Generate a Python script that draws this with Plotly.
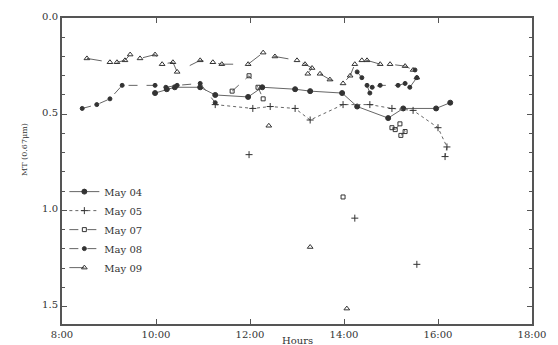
import plotly.graph_objects as go

# Hours (decimal) and MT values
may04_x = [9.98, 10.23, 10.40, 10.94, 11.26, 11.96, 12.26, 12.96, 13.28, 13.96, 14.28, 14.94, 15.26, 15.96, 16.26]
may04_y = [0.39, 0.37, 0.36, 0.36, 0.40, 0.41, 0.36, 0.37, 0.38, 0.39, 0.46, 0.52, 0.47, 0.47, 0.44]

may05_x = [11.26, 12.06, 12.43, 12.96, 13.28, 13.98, 14.55, 15.02, 15.47, 16.00, 16.19, 16.15,
           None, 11.98, None, 14.23, None, 15.55]
may05_y = [0.45, 0.47, 0.46, 0.47, 0.53, 0.45, 0.45, 0.47, 0.48, 0.57, 0.67, 0.72,
           None, 0.71, None, 1.04, None, 1.28]

may07_x = [11.62, 11.98, 12.17, 12.28, None, 13.98, None, 15.02, 15.09, 15.19, 15.30, 15.21]
may07_y = [0.38, 0.30, 0.36, 0.42, None, 0.93, None, 0.57, 0.58, 0.55, 0.59, 0.61]

may08_x = [8.43, 8.74, 9.02, 9.28, 9.98, 10.21, 10.45, 10.94, 11.26,
           None, 14.28, 14.38, 14.49, 14.55, 14.60, 14.77, 15.15, 15.30, 15.40, 15.55, 15.51]
may08_y = [0.47, 0.45, 0.42, 0.35, 0.35, 0.36, 0.35, 0.34, 0.44,
           None, 0.28, 0.31, 0.35, 0.39, 0.36, 0.35, 0.35, 0.34, 0.36, 0.31, 0.27]

may09_x = [8.53, 9.02, 9.17, 9.34, 9.45, 9.66, 9.98, 10.13, 10.36, 10.45, 10.94, 11.21, 11.40,
           11.96, 12.28, 12.53, 13.00, 13.17, 13.32, 13.23, 13.49, 13.70, 13.98, 14.13, 14.23,
           14.38, 14.49, 14.77, 14.98, 15.30, 15.47, 15.55,
           None, 12.40, None, 13.28, None, 14.06]
may09_y = [0.21, 0.23, 0.23, 0.22, 0.19, 0.21, 0.19, 0.24, 0.23, 0.28, 0.22, 0.23, 0.24,
           0.24, 0.18, 0.20, 0.22, 0.24, 0.26, 0.29, 0.29, 0.32, 0.34, 0.30, 0.24,
           0.22, 0.22, 0.24, 0.24, 0.25, 0.27, 0.31,
           None, 0.56, None, 1.19, None, 1.51]

x_tick_vals = [8, 10, 12, 14, 16, 18]
x_tick_text = ["8:00", "10:00", "12:00", "14:00", "16:00", "18:00"]
y_tick_vals = [0.0, 0.5, 1.0, 1.5]
y_tick_text = ["0.0", "0.5", "1.0", "1.5"]

FONT = "DejaVu Serif"
INK = "#333333"
AX = "#555555"

series = [
    ("May 04", may04_x, may04_y, "solid", "circle", 5),
    ("May 05", may05_x, may05_y, "dot", "cross-thin-open", 5),
    ("May 07", may07_x, may07_y, "dash", "square-open", 4),
    ("May 08", may08_x, may08_y, "dash", "circle", 4),
    ("May 09", may09_x, may09_y, "longdash", "triangle-up-open", 5),
]

fig = go.Figure()
for name, xs, ys, dash, sym, size in series:
    fig.add_trace(go.Scatter(
        x=xs, y=ys, name=name, mode="lines+markers", connectgaps=False,
        line=dict(color="#666666", width=1, dash=dash),
        marker=dict(symbol=sym, size=size, color=INK, line=dict(color=INK, width=1)),
    ))

# the page body adds an 8px margin, so the figure is drawn 8px smaller and shifted
fig.update_layout(
    width=550, height=337,
    margin=dict(l=54, r=26, t=2, b=21),
    paper_bgcolor="white", plot_bgcolor="white",
    font=dict(family=FONT, size=10, color=INK),
    showlegend=True,
    legend=dict(x=0.005, y=0.48, xanchor="left", yanchor="top",
                bgcolor="rgba(0,0,0,0)", font=dict(family=FONT, size=10, color=INK),
                tracegroupgap=0, itemwidth=30),
    xaxis=dict(range=[8, 18], tickvals=x_tick_vals, ticktext=x_tick_text,
               showgrid=False, zeroline=False, showline=True, linecolor=AX, linewidth=2,
               mirror="ticks", ticks="inside", ticklen=5, tickcolor=AX,
               ticklabeloverflow="allow",
               tickfont=dict(family=FONT, size=10, color=INK)),
    yaxis=dict(range=[1.59, 0.0], tickvals=y_tick_vals, ticktext=y_tick_text,
               showgrid=False, zeroline=False, showline=True, linecolor=AX, linewidth=2,
               mirror="ticks", ticks="inside", ticklen=5, tickcolor=AX,
               ticklabeloverflow="allow", ticklabelshift=2,
               tickfont=dict(family=FONT, size=10, color=INK),
               minor=dict(dtick=0.1, ticks="inside", ticklen=3, tickcolor=AX)),
    annotations=[
        dict(text="Hours", xref="paper", yref="paper", x=0.5, y=-0.03, xanchor="center",
             yanchor="top", showarrow=False, font=dict(family=FONT, size=10, color=INK)),
        dict(text="MT (0.67μm)", xref="paper", yref="paper", x=-0.08, y=0.57, xanchor="center",
             yanchor="middle", textangle=-90, showarrow=False,
             font=dict(family=FONT, size=8, color=INK)),
    ],
)

fig.write_html("out.html")
